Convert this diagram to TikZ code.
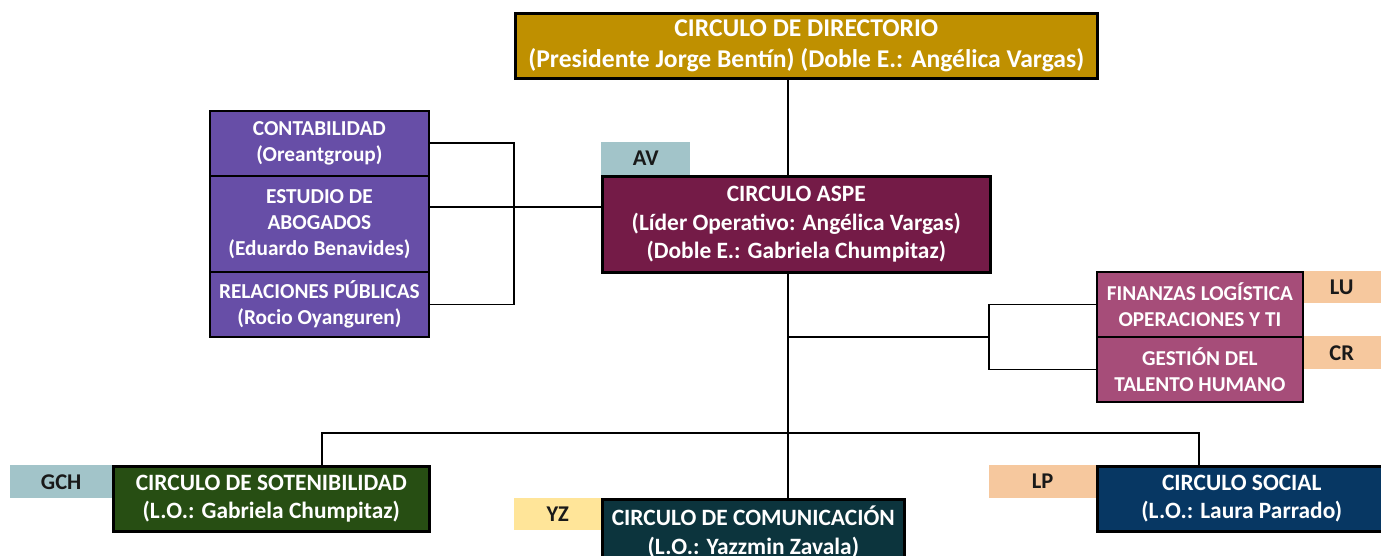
\documentclass[tikz,border=0pt]{standalone}
\usepackage{fontspec}
\setmainfont{Carlito}
\definecolor{cdir}{HTML}{BF9000}
\definecolor{caspe}{HTML}{741B47}
\definecolor{cpurp}{HTML}{674EA7}
\definecolor{cfin}{HTML}{A64D79}
\definecolor{cteal}{HTML}{A2C4C9}
\definecolor{cpeach}{HTML}{F6C89E}
\definecolor{cyel}{HTML}{FFE599}
\definecolor{cgreen}{HTML}{274E13}
\definecolor{ccom}{HTML}{0C343D}
\definecolor{csoc}{HTML}{073763}
\tikzset{
  box/.style={draw=black, line width=2.6pt, anchor=north west, align=center, text=white,
    font=\bfseries\fontsize{23.4}{28.5}\selectfont, inner sep=0pt},
  thinbox/.style={box, line width=1.8pt},
  tag/.style={anchor=north west, align=center, text=black!90, inner sep=0pt,
    font=\bfseries\fontsize{22.5}{26}\selectfont},
  conn/.style={draw=black, line width=1.8pt}
}
\begin{document}
\begin{tikzpicture}[x=1pt,y=-1pt]
\useasboundingbox (0,0) rectangle (1381,556);
% tags
\node[tag, fill=cteal, minimum width=89pt, minimum height=33pt] (av) at (601,142) {AV};
\node[tag, fill=cpeach, minimum width=79pt, minimum height=32pt] (lu) at (1302,271) {LU};
\node[tag, fill=cpeach, minimum width=79pt, minimum height=33pt] (cr) at (1302,336) {CR};
\node[tag, fill=cteal, minimum width=102pt, minimum height=33pt] (gch) at (10,465) {GCH};
\node[tag, fill=cyel, minimum width=87pt, minimum height=32pt] (yz) at (514,498) {YZ};
\node[tag, fill=cpeach, minimum width=107pt, minimum height=33pt] (lp) at (989,465) {LP};
% boxes
\node[box, fill=cdir, minimum width=582pt, minimum height=65pt,
  font=\bfseries\fontsize{25.6}{30.5}\selectfont] (dir) at (514,12)
  {CIRCULO DE DIRECTORIO\\(Presidente Jorge Bentín) (Doble E.: Angélica Vargas)};
\node[box, fill=caspe, minimum width=388pt, minimum height=96pt] (aspe) at (601,175)
  {CIRCULO ASPE\\(Líder Operativo: Angélica Vargas)\\(Doble E.: Gabriela Chumpitaz)};
\node[thinbox, fill=cpurp, minimum width=219pt, minimum height=65pt,
  font=\bfseries\fontsize{21.3}{26}\selectfont] (cont) at (209,110)
  {CONTABILIDAD\\(Oreantgroup)};
\node[thinbox, fill=cpurp, minimum width=219pt, minimum height=96pt,
  font=\bfseries\fontsize{21.3}{26}\selectfont] (est) at (209,175)
  {ESTUDIO DE\\ABOGADOS\\(Eduardo Benavides)};
\node[thinbox, fill=cpurp, minimum width=219pt, minimum height=65pt,
  font=\bfseries\fontsize{21.3}{26}\selectfont] (rel) at (209,271)
  {RELACIONES PÚBLICAS\\(Rocio Oyanguren)};
\node[thinbox, fill=cfin, minimum width=206pt, minimum height=65pt,
  font=\bfseries\fontsize{21.2}{26}\selectfont] (fin) at (1096,271)
  {FINANZAS LOGÍSTICA\\OPERACIONES Y TI};
\node[thinbox, fill=cfin, minimum width=206pt, minimum height=65pt,
  font=\bfseries\fontsize{21.2}{26}\selectfont] (ges) at (1096,336)
  {GESTIÓN DEL\\TALENTO HUMANO};
\node[box, fill=cgreen, minimum width=316pt, minimum height=65pt] (sot) at (112,465)
  {CIRCULO DE SOTENIBILIDAD\\(L.O.: Gabriela Chumpitaz)};
\node[box, fill=ccom, minimum width=302pt, minimum height=65pt] (com) at (601,498)
  {CIRCULO DE COMUNICACIÓN\\(L.O.: Yazzmin Zavala)};
\node[box, fill=csoc, minimum width=289pt, minimum height=65pt] (soc) at (1096,465)
  {CIRCULO SOCIAL\\(L.O.: Laura Parrado)};
% coordinates
\coordinate (trunk) at (788,0);
\coordinate (lb) at (514,0);
\coordinate (ml) at (0,207);
\coordinate (rb) at (989,337);
\coordinate (bl) at (322,433);
\coordinate (br) at (1199,433);
% connectors
\draw[conn] (dir.south -| trunk) -- (aspe.north -| trunk);
\draw[conn] (aspe.south -| trunk) -- (com.north -| trunk);
\draw[conn] (cont.east) -| (lb |- rel.east) -- (rel.east);
\draw[conn] (est.east |- ml) -- (aspe.west |- ml);
\draw[conn] (trunk |- rb) -- (rb);
\draw[conn] (fin.west) -| (rb) |- (ges.west);
\draw[conn] (sot.north -| bl) -- (bl) -- (br) -- (soc.north -| br);
\end{tikzpicture}
\end{document}
